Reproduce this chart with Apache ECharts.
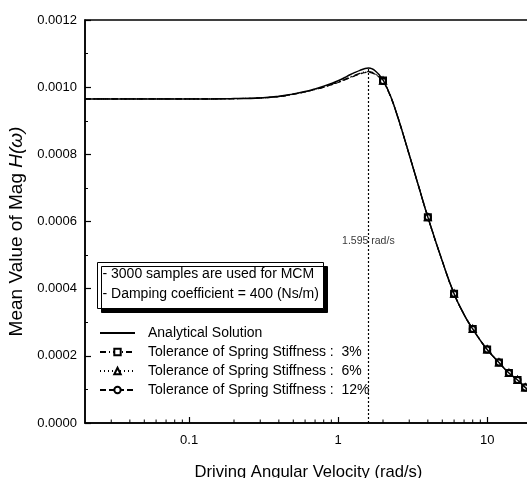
<!DOCTYPE html>
<html>
<head>
<meta charset="utf-8">
<script src="https://cdn.jsdelivr.net/npm/echarts@6/dist/echarts.min.js"></script>
<style>html,body{margin:0;padding:0;background:#fff}#c{width:527px;height:478px}</style>
</head>
<body>
<div id="c"></div>
<script>
// ---- data ----
const omega = [0.02, 0.05, 0.1, 0.2, 0.3, 0.4, 0.5, 0.6, 0.7, 0.8, 0.9, 1.0, 1.1, 1.2, 1.3, 1.4, 1.5, 1.6, 1.7, 1.8, 1.9, 2.0, 2.25, 2.5, 2.75, 3.0, 3.5, 4, 5, 6, 7, 8, 9, 10, 12, 14, 16, 18, 20];
const analytical = [0.000965, 0.000965, 0.000965, 0.000966, 0.000968, 0.000973, 0.000980, 0.000987, 0.000995, 0.001003, 0.001011, 0.001019, 0.001028, 0.001037, 0.001044, 0.001050, 0.001055, 0.001057, 0.001054, 0.001046, 0.001035, 0.001022, 0.000973, 0.000914, 0.000855, 0.000799, 0.000699, 0.000613, 0.000482, 0.000385, 0.000323, 0.000280, 0.000246, 0.000219, 0.000180, 0.000149, 0.000128, 0.000106, 0.000092];
const mcm3 = [0.000965, 0.000965, 0.000965, 0.000966, 0.000968, 0.000972, 0.000979, 0.000986, 0.000993, 0.001000, 0.001008, 0.001015, 0.001023, 0.001030, 0.001036, 0.001041, 0.001045, 0.001046, 0.001044, 0.001038, 0.001030, 0.001020, 0.000972, 0.000914, 0.000855, 0.000799, 0.000699, 0.000613, 0.000482, 0.000385, 0.000323, 0.000280, 0.000246, 0.000219, 0.000180, 0.000149, 0.000128, 0.000106, 0.000092];
const mcm6 = [0.000965, 0.000965, 0.000965, 0.000966, 0.000968, 0.000972, 0.000979, 0.000986, 0.000993, 0.001000, 0.001008, 0.001015, 0.001022, 0.001029, 0.001035, 0.001040, 0.001044, 0.001045, 0.001043, 0.001037, 0.001029, 0.001019, 0.000972, 0.000914, 0.000855, 0.000799, 0.000699, 0.000613, 0.000482, 0.000385, 0.000323, 0.000280, 0.000246, 0.000219, 0.000180, 0.000149, 0.000128, 0.000106, 0.000092];
const mcm12 = [0.000965, 0.000965, 0.000965, 0.000966, 0.000968, 0.000972, 0.000979, 0.000986, 0.000993, 0.001000, 0.001007, 0.001014, 0.001021, 0.001028, 0.001034, 0.001039, 0.001043, 0.001044, 0.001042, 0.001036, 0.001028, 0.001018, 0.000971, 0.000914, 0.000855, 0.000799, 0.000699, 0.000613, 0.000482, 0.000385, 0.000323, 0.000280, 0.000246, 0.000219, 0.000180, 0.000149, 0.000128, 0.000106, 0.000092];
const markerOmega = [2, 4, 6, 8, 10, 12, 14, 16, 18, 20];
const peakOmega = 1.595;
const peakValue = 0.001056;
const peakLabel = '1.595 rad/s';
const peakLabelY = 0.000542;
const xMinorTicks = [0.03, 0.04, 0.05, 0.06, 0.07, 0.08, 0.09, 0.2, 0.3, 0.4, 0.5, 0.6, 0.7, 0.8, 0.9, 2, 3, 4, 5, 6, 7, 8, 9];
const seriesNames = ['Analytical Solution', 'Tolerance of Spring Stiffness :  3%', 'Tolerance of Spring Stiffness :  6%', 'Tolerance of Spring Stiffness :  12%'];
const noteLines = ['- 3000 samples are used for MCM', '- Damping coefficient = 400 (Ns/m)'];

const FONT = 'Arial, "Liberation Sans", sans-serif';

function mcmData(vals) {
  return omega.map((w, i) => markerOmega.includes(w) ? [w, vals[i]] : {value: [w, vals[i]], symbol: 'none'});
}
function mcmSeries(name, vals, sym, dash) {
  return {
    name: name, type: 'line', data: mcmData(vals), smooth: true,
    symbol: sym, symbolSize: 6, showAllSymbol: true,
    lineStyle: {color: '#000', width: 1.2, type: dash},
    itemStyle: {color: '#000', borderColor: '#000', borderWidth: 1.2},
    z: 3
  };
}

const chart = echarts.init(document.getElementById('c'), null, {renderer: 'canvas'});
chart.setOption({
  animation: false,
  backgroundColor: '#fff',
  textStyle: {fontFamily: FONT},
  grid: {left: 85, top: 20, bottom: 55, right: -5, show: true, borderColor: '#000', borderWidth: 1.5,
    containLabel: false, outerBoundsMode: 'none'},
  xAxis: {
    type: 'log', logBase: 10, min: 0.02, max: 20,
    name: 'Driving Angular Velocity (rad/s)', nameLocation: 'middle', nameGap: 41,
    nameTextStyle: {fontSize: 16.6, color: '#000', fontFamily: FONT},
    axisLine: {lineStyle: {color: '#000', width: 1.5}},
    axisTick: {inside: true, length: 6, lineStyle: {color: '#000', width: 1.2}},
    splitLine: {show: false},
    axisLabel: {color: '#000', fontSize: 13, margin: 11, fontFamily: FONT, showMinLabel: false, showMaxLabel: false,
      formatter: v => String(+(+v).toPrecision(3))}
  },
  yAxis: {
    type: 'value', min: 0, max: 0.0012, interval: 0.0002,
    name: '{a|Mean Value of Mag }{b|H(ω)}', nameLocation: 'middle', nameGap: 55,
    nameTextStyle: {fontSize: 19, color: '#000', fontFamily: FONT, padding: [0, 0, 0, -20],
      rich: {a: {fontSize: 19, fontFamily: FONT, color: '#000'}, b: {fontSize: 19, fontFamily: FONT, fontStyle: 'italic', color: '#000'}}},
    axisLine: {show: true, lineStyle: {color: '#000', width: 1.5}},
    axisTick: {inside: true, length: 6, lineStyle: {color: '#000', width: 1.2}},
    minorTick: {show: true, splitNumber: 2, length: 3, lineStyle: {color: '#000', width: 1}},
    splitLine: {show: false},
    axisLabel: {color: '#000', fontSize: 13, margin: 8, fontFamily: FONT, formatter: v => v.toFixed(4)}
  },
  legend: {
    data: [{name: seriesNames[0], itemStyle: {opacity: 0}}, seriesNames[1], seriesNames[2], seriesNames[3]],
    orient: 'vertical', left: 94, top: 321,
    itemWidth: 35, itemHeight: 8, itemGap: 5,
    textStyle: {fontSize: 14, color: '#000', fontFamily: FONT, padding: [0, 0, 0, 8], lineHeight: 14},
    selectedMode: false
  },
  graphic: [{
    type: 'group', left: 97, top: 262, silent: true,
    children: [
      {type: 'rect', shape: {x: 0, y: 0, width: 226, height: 46},
        style: {fill: '#fff', stroke: '#000', lineWidth: 1, shadowColor: '#000', shadowOffsetX: 4, shadowOffsetY: 4, shadowBlur: 0}},
      {type: 'text', x: 5, y: 12, style: {text: noteLines[0], font: '14px ' + FONT, fill: '#000', verticalAlign: 'middle'}},
      {type: 'text', x: 5, y: 32, style: {text: noteLines[1], font: '14px ' + FONT, fill: '#000', verticalAlign: 'middle'}}
    ]
  }],
  series: [
    {
      name: seriesNames[0], type: 'line', smooth: true, symbol: 'none',
      data: omega.map((w, i) => [w, analytical[i]]),
      lineStyle: {color: '#000', width: 1.5}, itemStyle: {color: '#000'}, z: 4,
      markLine: {
        silent: true, symbol: 'none', label: {show: false},
        lineStyle: {color: '#000', width: 1.2, type: [2, 2]},
        data: [[{coord: [peakOmega, 0]}, {coord: [peakOmega, peakValue]}]]
      }
    },
    mcmSeries(seriesNames[1], mcm3, 'emptyRect', [6, 3, 1, 3]),
    mcmSeries(seriesNames[2], mcm6, 'emptyTriangle', [1, 3]),
    mcmSeries(seriesNames[3], mcm12, 'emptyCircle', [6, 3]),
    {
      type: 'scatter', symbolSize: 0, silent: true,
      data: [[peakOmega, peakLabelY]],
      label: {show: true, position: 'inside', formatter: peakLabel, color: '#000', fontSize: 10.5, fontFamily: FONT},
      z: 5
    },
    {
      type: 'custom', silent: true,
      data: xMinorTicks.map(v => [v, 0]),
      encode: {x: 0, y: 1},
      renderItem: function (params, api) {
        const p = api.coord([api.value(0), 0]);
        return {type: 'line', shape: {x1: p[0], y1: p[1], x2: p[0], y2: p[1] - 3.5}, style: {stroke: '#000', lineWidth: 1}};
      },
      z: 2
    }
  ]
});
</script>
</body>
</html>
